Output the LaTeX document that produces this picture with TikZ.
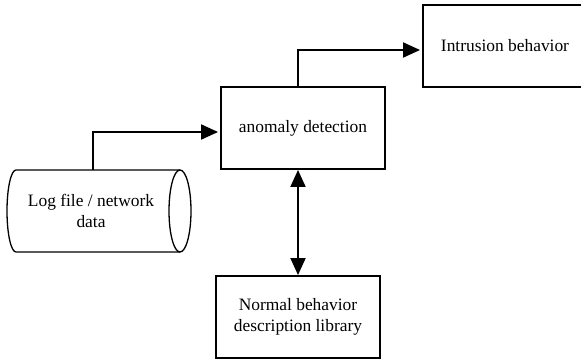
\documentclass[tikz,border=0pt]{standalone}
\usepackage{fontspec}
\setmainfont{Liberation Serif}
\usetikzlibrary{arrows.meta}
\begin{document}
\begin{tikzpicture}[x=1pt,y=-1pt,
  every node/.style={font=\fontsize{17.4}{20.5}\selectfont, align=center},
  procbox/.style={draw, rectangle, line width=1.9pt, minimum width=164pt, minimum height=82pt, inner sep=0pt},
  outline/.style={line width=1.3pt},
  tip/.style={Triangle[length=17pt,width=15pt]},
  flow/.style={line width=1.9pt, -{Triangle[length=17pt,width=15pt]}, shorten >=2pt},
  biflow/.style={line width=1.9pt, {Triangle[length=17pt,width=15pt]}-{Triangle[length=17pt,width=15pt]}}]
\useasboundingbox (0,0) rectangle (581,361);
\begin{scope}
\clip (0,0) rectangle (581,361);
% process boxes
\node[procbox] (anom) at (303,128) {anomaly detection};
\node[procbox] (intr) at (505,46) {Intrusion behavior};
\node[procbox] (norm) at (298,317) {Normal behavior\\description library};
% data store drawn as a lying cylinder
\draw[outline] (16,170) arc[start angle=270, end angle=90, x radius=9, y radius=41]
  -- (180,252) arc[start angle=90, end angle=-90, x radius=11, y radius=41] -- cycle;
\draw[outline] (180,170) arc[start angle=270, end angle=90, x radius=11, y radius=41];
\node (log) at (91,211) {Log file / network\\data};
\coordinate (logtop) at (93,170);
% connectors
\draw[flow] (logtop) |- ([yshift=-4pt]anom.west);
\draw[flow] (norm.north |- anom.north) |- ([yshift=-4pt]intr.west);
\draw[biflow] (norm.north |- anom.south) -- (norm.north);
\end{scope}
\end{tikzpicture}
\end{document}
